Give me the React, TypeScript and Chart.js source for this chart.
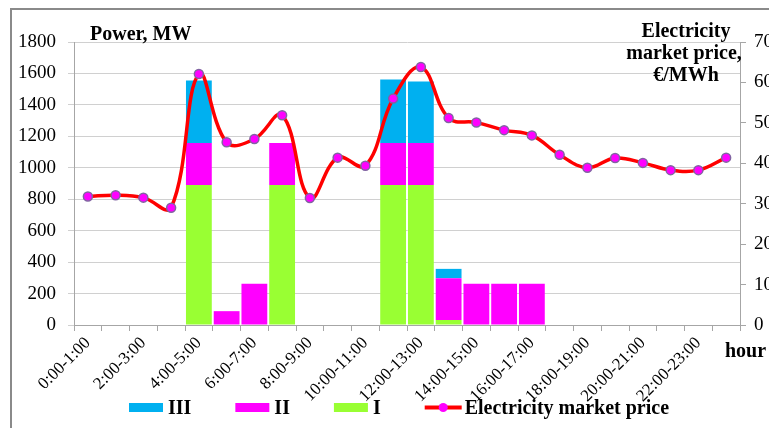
import { useEffect, useRef } from 'react';
import { Chart, registerables } from 'chart.js';

Chart.register(...registerables);

const hours = [
  '0:00-1:00', '1:00-2:00', '2:00-3:00', '3:00-4:00', '4:00-5:00', '5:00-6:00',
  '6:00-7:00', '7:00-8:00', '8:00-9:00', '9:00-10:00', '10:00-11:00', '11:00-12:00',
  '12:00-13:00', '13:00-14:00', '14:00-15:00', '15:00-16:00', '16:00-17:00', '17:00-18:00',
  '18:00-19:00', '19:00-20:00', '20:00-21:00', '21:00-22:00', '22:00-23:00', '23:00-24:00',
];

// Power, MW (stacked)
const tierI = [0, 0, 0, 0, 890, 0, 0, 890, 0, 0, 0, 890, 890, 32, 0, 0, 0, 0, 0, 0, 0, 0, 0, 0];
const tierII = [0, 0, 0, 0, 268, 88, 263, 268, 0, 0, 0, 268, 268, 266, 263, 263, 263, 0, 0, 0, 0, 0, 0, 0];
const tierIII = [0, 0, 0, 0, 397, 0, 0, 0, 0, 0, 0, 403, 391, 59, 0, 0, 0, 0, 0, 0, 0, 0, 0, 0];

// Electricity market price, €/MWh
const price = [31.8, 32.1, 31.5, 29.0, 62.1, 45.2, 46.0, 51.9, 31.4, 41.4, 39.4, 56.0,
  63.8, 51.2, 50.1, 48.2, 46.9, 42.1, 38.9, 41.3, 40.1, 38.3, 38.3, 41.4];

const legendItems = [
  { label: 'III', color: '#00B0F0', type: 'box' },
  { label: 'II', color: '#FF00FF', type: 'box' },
  { label: 'I', color: '#99FF33', type: 'box' },
  { label: 'Electricity market price', color: '#FF0000', type: 'line' },
];

const SERIF = '"Liberation Serif", "Times New Roman", serif';

const overlay = {
  id: 'overlay',
  afterDraw(chart: any) {
    const ctx = chart.ctx as CanvasRenderingContext2D;
    ctx.save();
    ctx.fillStyle = '#000';
    ctx.font = `bold 20px ${SERIF}`;
    ctx.textBaseline = 'alphabetic';
    ctx.textAlign = 'left';
    ctx.fillText('Power, MW', 90, 40);
    ctx.textAlign = 'center';
    ctx.fillText('Electricity', 686, 37);
    ctx.fillText('market price,', 684, 59);
    ctx.fillText('€/MWh', 686, 81);
    ctx.textAlign = 'left';
    ctx.fillText('hour', 725, 357);

    // legend
    let x = 129;
    const cy = 407.5;
    legendItems.forEach((it) => {
      if (it.type === 'box') {
        ctx.fillStyle = it.color;
        ctx.fillRect(x, cy - 4.5, 34, 9);
        x += 34 + 5;
      } else {
        ctx.strokeStyle = it.color;
        ctx.lineWidth = 4;
        ctx.beginPath();
        ctx.moveTo(x, cy);
        ctx.lineTo(x + 37, cy);
        ctx.stroke();
        ctx.fillStyle = '#FF00FF';
        ctx.beginPath();
        ctx.arc(x + 18.5, cy, 4.5, 0, Math.PI * 2);
        ctx.fill();
        x += 37 + 3;
      }
      ctx.fillStyle = '#000';
      ctx.textAlign = 'left';
      ctx.fillText(it.label, x, 414);
      x += ctx.measureText(it.label).width + 44;
    });
    ctx.restore();
  },
};

export default function App() {
  const ref = useRef<HTMLCanvasElement>(null);

  useEffect(() => {
    if (!ref.current) return;
    const tickFont = { family: SERIF, size: 19 };
    const chart = new Chart(ref.current, {
      type: 'bar',
      data: {
        labels: hours,
        datasets: [
          {
            type: 'line',
            label: 'Electricity market price',
            data: price,
            yAxisID: 'y1',
            borderColor: '#FF0000',
            borderWidth: 3.5,
            tension: 0.4,
            pointRadius: 4.5,
            pointBackgroundColor: '#FF00FF',
            pointBorderColor: '#8064A2',
            pointBorderWidth: 1.5,
            order: 0,
          } as any,
          { label: 'I', data: tierI, backgroundColor: '#99FF33', yAxisID: 'y', order: 1, stack: 's' },
          { label: 'II', data: tierII, backgroundColor: '#FF00FF', yAxisID: 'y', order: 1, stack: 's' },
          { label: 'III', data: tierIII, backgroundColor: '#00B0F0', yAxisID: 'y', order: 1, stack: 's' },
        ],
      },
      options: {
        responsive: false,
        animation: false,
        devicePixelRatio: 1,
        barPercentage: 0.93,
        categoryPercentage: 1,
        layout: { padding: { top: 42, left: 0, right: 0, bottom: 0 } },
        plugins: { legend: { display: false }, tooltip: { enabled: false } },
        scales: {
          x: {
            stacked: true,
            offset: true,
            grid: { display: true, drawOnChartArea: false, offset: true, tickLength: 6, color: '#a6a6a6' },
            border: { color: '#a6a6a6' },
            ticks: {
              autoSkip: false,
              maxRotation: 45,
              minRotation: 45,
              padding: 2,
              color: '#000',
              font: { family: SERIF, size: 17 },
              callback: (_v: any, i: number) => (i % 2 === 0 ? hours[i] : ''),
            },
            afterFit: (s: any) => { s.height = 103; },
          },
          y: {
            stacked: true,
            min: 0,
            max: 1800,
            ticks: { stepSize: 200, padding: 12, color: '#000', font: tickFont, callback: (v: any) => String(v) },
            grid: { color: '#d0d0d0', tickLength: 6 },
            border: { color: '#a6a6a6' },
            afterFit: (s: any) => { s.width = 74; },
          },
          y1: {
            position: 'right',
            min: 0,
            max: 70,
            ticks: { stepSize: 10, padding: 8, color: '#000', font: tickFont, callback: (v: any) => String(v) },
            grid: { drawOnChartArea: false, tickLength: 6, color: '#a6a6a6' },
            border: { color: '#a6a6a6' },
            afterFit: (s: any) => { s.width = 29; },
          },
        },
      } as any,
      plugins: [overlay],
    });
    return () => chart.destroy();
  }, []);

  return (
    <div style={{ position: 'fixed', left: 0, top: 0, width: 769, height: 428, background: '#fff', overflow: 'hidden' }}>
      <div style={{ position: 'absolute', left: 10, top: 8, width: 900, height: 600, borderTop: '2px solid #8a8a8a', borderLeft: '2px solid #8a8a8a' }} />
      <canvas ref={ref} width={769} height={428} style={{ position: 'absolute', left: 0, top: 0 }} />
    </div>
  );
}
